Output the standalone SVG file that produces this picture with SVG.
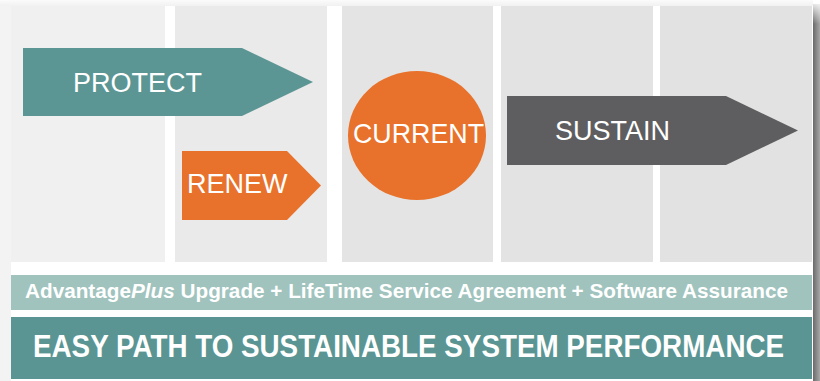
<svg xmlns="http://www.w3.org/2000/svg" width="820" height="381" viewBox="0 0 820 381">
  <defs>
    <linearGradient id="edgeShadow" x1="0" y1="0" x2="1" y2="0">
      <stop offset="0" stop-color="#6a6a6a"/>
      <stop offset="1" stop-color="#a8a8a8"/>
    </linearGradient>
    <linearGradient id="edgeShadowTop" x1="0" y1="0" x2="0" y2="1">
      <stop offset="0" stop-color="#ffffff" stop-opacity="1"/>
      <stop offset="1" stop-color="#ffffff" stop-opacity="0"/>
    </linearGradient>
    <linearGradient id="topShade" x1="0" y1="0" x2="0" y2="1">
      <stop offset="0" stop-color="#fbfbfb"/>
      <stop offset="1" stop-color="#f1f1f1"/>
    </linearGradient>
    <style>
      .lbl { font-family: "Liberation Sans", Arial, sans-serif; fill: #ffffff; }
      .big { font-size: 27px; }
      .teal { fill: #5c9694; }
      .orange { fill: #e8722b; }
      .slate { fill: #5e5e60; }
    </style>
  </defs>

  <!-- backdrop and card -->
  <rect x="0" y="0" width="820" height="381" fill="#ffffff"/>
  <rect x="0" y="0" width="11" height="381" fill="#f3f3f3"/>
  <rect x="0" y="0" width="820" height="6" fill="url(#topShade)"/>
  <rect x="813" y="4" width="7" height="377" fill="url(#edgeShadow)"/>
  <rect x="813" y="0" width="7" height="24" fill="url(#edgeShadowTop)"/>

  <!-- stage columns -->
  <g id="columns">
    <rect x="11" y="6" width="154" height="256" fill="#f0f0f0"/>
    <rect x="175" y="6" width="152" height="256" fill="#eaeaea"/>
    <rect x="342" y="6" width="151" height="256" fill="#e4e4e4"/>
    <rect x="501" y="6" width="152" height="256" fill="#e3e3e3"/>
    <rect x="660" y="6" width="152" height="256" fill="#e2e2e2"/>
  </g>

  <g id="protect">
    <polygon class="teal" points="23,48 242,48 313,82 242,116 23,116"/>
    <text class="lbl big" x="73" y="92">PROTECT</text>
  </g>

  <g id="renew">
    <polygon class="orange" points="182,151 287,151 321,185.5 287,220 182,220"/>
    <text class="lbl big" x="187" y="193">RENEW</text>
  </g>

  <g id="current">
    <ellipse class="orange" cx="417" cy="135.5" rx="69" ry="64.5"/>
    <text class="lbl" x="353" y="143" font-size="28" textLength="131" lengthAdjust="spacingAndGlyphs">CURRENT</text>
  </g>

  <g id="sustain">
    <polygon class="slate" points="507,96 726,96 798,130.5 726,165 507,165"/>
    <text class="lbl big" x="555" y="140">SUSTAIN</text>
  </g>

  <g id="offer-band">
    <rect x="11" y="275" width="801" height="35" fill="#a0c3be"/>
    <text class="lbl" x="25" y="298" font-size="20.5" font-weight="bold" textLength="763" lengthAdjust="spacingAndGlyphs">Advantage<tspan font-style="italic">Plus</tspan> Upgrade + LifeTime Service Agreement + Software Assurance</text>
  </g>

  <g id="tagline-band">
    <rect x="11" y="317" width="801" height="62" fill="#5a9593"/>
    <text class="lbl" transform="translate(33,357) scale(1,1.1)" font-size="27.8" font-weight="bold">EASY PATH TO SUSTAINABLE SYSTEM PERFORMANCE</text>
  </g>
</svg>
